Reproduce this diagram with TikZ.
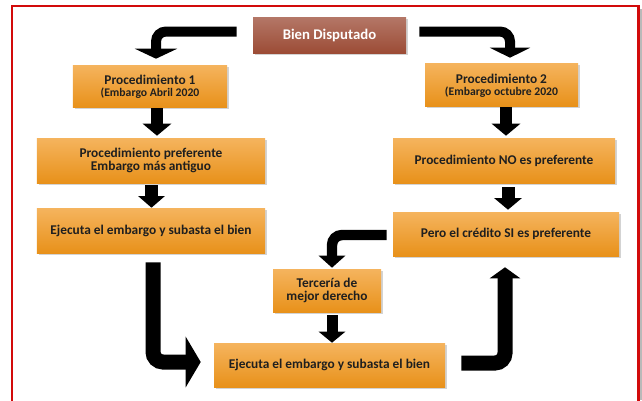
\documentclass[tikz,border=0pt]{standalone}
\usepackage{fontspec}
\setmainfont{Carlito}
\usetikzlibrary{arrows.meta,shadows}
\definecolor{boxtop}{HTML}{F5B45E}
\definecolor{boxbot}{HTML}{E8911A}
\definecolor{bientop}{HTML}{B47767}
\definecolor{bienbot}{HTML}{9C4C36}
\definecolor{marco}{HTML}{D20A0A}
\begin{document}
\begin{tikzpicture}[x=0.25mm, y=-0.25mm,
    paso/.style={top color=boxtop, bottom color=boxbot, align=center, inner sep=0pt,
      drop shadow={opacity=0.35, shadow xshift=0.5mm, shadow yshift=-0.6mm},
      font=\bfseries\fontsize{9.5}{9.7}\selectfont, text=black!88},
    bienbox/.style={paso, top color=bientop, bottom color=bienbot, text=white,
      font=\bfseries\fontsize{10.5}{11}\selectfont},
    flecha/.style={line width=#1, rounded corners=2.5mm},
    flecha/.default=3mm]
  \useasboundingbox (0,0) rectangle (642,400);
  \clip (0,0) rectangle (642,400);
  \fill[gray!55] (639.5,9) rectangle (642,400);
  \draw[marco, line width=0.6mm] (12,6) rectangle (638.5,420);

  \node[bienbox, minimum width=38.25mm, minimum height=9mm] (bien) at (329.5,35) {Bien Disputado};
  \node[paso, minimum width=38.5mm, minimum height=10.5mm] (proc1) at (150,86)
    {\rule{0pt}{8pt}Procedimiento 1\\[-1.2pt]{\fontsize{8.3}{8.5}\selectfont(Embargo Abril 2020}};
  \node[paso, minimum width=38.25mm, minimum height=10.75mm] (proc2) at (501.5,84.5)
    {\rule{0pt}{8pt}Procedimiento 2\\[-1.2pt]{\fontsize{8.3}{8.5}\selectfont(Embargo octubre 2020}};
  \node[paso, minimum width=57mm, minimum height=11.25mm] (pref) at (151,160.5)
    {Procedimiento preferente\\Embargo más antiguo};
  \node[paso, minimum width=57mm, minimum height=11.25mm] (ejec1) at (151,230.5)
    {Ejecuta el embargo y subasta el bien};
  \node[paso, minimum width=55.5mm, minimum height=11.25mm] (nopref) at (504,160.5)
    {Procedimiento NO es preferente};
  \node[paso, minimum width=56.5mm, minimum height=11mm] (pero) at (506,234)
    {Pero el crédito SI es preferente};
  \node[paso, minimum width=27mm, minimum height=10.75mm] (terc) at (327,290.5)
    {Tercería de\\mejor derecho};
  \node[paso, minimum width=57.75mm, minimum height=11mm] (ejec2) at (329.5,365)
    {Ejecuta el embargo y subasta el bien};

  \draw[flecha=2.5mm, -{Triangle[width=10.5mm, length=2.5mm]}]
    ([shift={(-16,-3.5)}]bien.west) -| ([shift={(6,-6)}]proc1.north);
  \draw[flecha=2.5mm, -{Triangle[width=10mm, length=2.5mm]}]
    ([shift={(13,-3.5)}]bien.east) -| ([shift={(8.5,-5)}]proc2.north);
  \draw[flecha, -{Triangle[width=7mm, length=3mm]}]
    ([shift={(7,1)}]proc1.south) -- ([shift={(6,-2)}]pref.north);
  \draw[flecha=3.25mm, -{Triangle[width=6.5mm, length=2.9mm]}]
    ([shift={(0.5,2)}]pref.south) -- ([shift={(0.5,0)}]ejec1.north);
  \draw[flecha, -{Triangle[width=7mm, length=3mm]}]
    ([shift={(4.5,1)}]proc2.south) -- ([shift={(2,-2)}]nopref.north);
  \draw[flecha=3.25mm, -{Triangle[width=6.75mm, length=2.9mm]}]
    ([shift={(4,4)}]nopref.south) -- ([shift={(2,-2)}]pero.north);
  \draw[flecha=2.6mm, -{Triangle[width=6.5mm, length=3mm]}]
    ([shift={(-6,1)}]pero.west) -| ([shift={(5,-1)}]terc.north);
  \draw[flecha=2.75mm, -{Triangle[width=6.5mm, length=2.75mm]}]
    ([shift={(5,3)}]terc.south) -- ([shift={(2.5,0)}]ejec2.north);
  \draw[flecha=3.75mm, -{Triangle[width=12.5mm, length=3.75mm]}]
    ([shift={(2,9)}]ejec1.south) |- ([shift={(-13,-3)}]ejec2.west);
  \draw[flecha=3.75mm, -{Triangle[width=7.5mm, length=2.75mm]}]
    ([shift={(16,-2)}]ejec2.east) -| ([shift={(-1,11)}]pero.south);
\end{tikzpicture}
\end{document}
